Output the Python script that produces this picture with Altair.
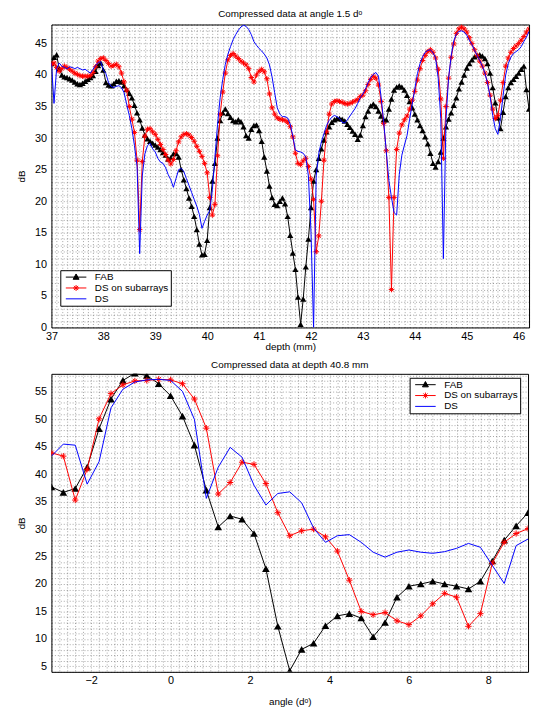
import altair as alt
import pandas as pd

FONT = "Liberation Sans"
SERIES = ["FAB", "DS on subarrays", "DS"]

# ---------------- top panel: compressed data at angle 1.5 deg ----------------
DEPTH_START = 37.0
DEPTH_STEP = 0.05
FAB_TOP = [
    41.8, 42.8, 43.2, 41.0, 40.0, 39.7, 39.6, 39.4, 39.2, 38.9,
    38.6, 38.5, 38.7, 39.0, 39.3, 39.6, 39.9, 40.6, 41.5, 41.9,
    40.8, 38.8, 38.4, 38.3, 38.6, 39.0, 39.1, 38.9, 38.3, 37.7,
    37.1, 36.4, 35.2, 34.0, 32.9, 31.6, 30.5, 29.9, 29.5, 29.2,
    28.9, 28.6, 28.2, 27.7, 27.3, 26.7, 26.9, 27.5, 27.6, 27.0,
    25.0, 23.4, 22.0, 20.5, 19.2, 17.6, 15.5, 13.2, 11.5, 11.6,
    13.8, 19.0, 23.2, 26.0, 30.0, 32.8, 34.0, 34.6, 33.9, 33.3,
    32.8, 32.6, 32.9, 32.6, 31.8, 30.4, 30.0, 31.4, 32.0, 32.1,
    31.2, 29.5, 27.0, 24.8, 22.4, 20.6, 19.5, 19.3, 20.0, 20.5,
    19.6, 17.6, 14.6, 11.8, 9.2, 4.8, 0.5, 4.5, 9.6, 14.0,
    19.0, 23.2, 25.0, 26.8, 28.3, 29.7, 31.0, 31.8, 32.5, 32.9,
    33.1, 33.1, 33.0, 32.7, 32.2, 31.7, 31.1, 30.6, 29.8, 30.5,
    32.0, 33.4, 34.3, 35.1, 35.4, 35.0, 34.3, 33.5, 32.9, 32.9,
    34.6, 36.2, 37.6, 38.1, 38.3, 38.1, 37.6, 36.8, 35.8, 34.8,
    33.8, 32.9, 32.0, 31.2, 30.2, 29.1, 27.6, 26.0, 25.4, 26.3,
    27.8, 30.0, 31.8, 33.0, 34.0, 35.2, 36.4, 37.8, 38.9, 40.0,
    41.1, 41.8, 42.4, 42.9, 43.1, 43.2, 43.0, 42.6, 41.8, 40.3,
    38.0, 35.6, 33.2, 31.5, 34.1, 36.6, 38.0, 38.8, 39.3, 39.8,
    40.3, 40.9, 41.4, 37.7, 34.6,
]
DSSUB_TOP = [
    41.7, 41.9, 41.2, 40.6, 41.0, 41.4, 41.2, 40.9, 40.6, 40.3,
    40.1, 39.9, 39.8, 39.8, 39.8, 39.9, 40.4, 41.3, 42.2, 42.6,
    42.7, 42.3, 41.8, 41.4, 41.5, 41.7, 41.3, 40.3, 38.9, 37.6,
    35.0, 33.0, 30.9, 26.5, 15.5, 26.3, 30.3, 31.4, 31.5, 31.0,
    30.6, 29.8, 29.0, 28.2, 27.4, 26.5, 25.9, 26.6, 28.0, 29.4,
    30.2, 30.6, 30.7, 30.5, 30.1, 29.5, 28.7, 27.9, 27.1, 26.0,
    24.5, 20.6, 17.8, 19.5, 27.2, 33.8, 37.3, 40.3, 42.4, 43.1,
    43.4, 43.0, 42.6, 42.2, 41.9, 41.6, 41.0, 39.6, 38.9, 40.0,
    40.6, 40.9, 40.5, 39.4, 37.0, 34.8, 33.8, 33.2, 33.0, 32.9,
    32.8, 32.5, 31.8, 30.2, 27.6, 26.0, 25.8, 26.4, 26.8, 25.5,
    23.5, 20.3, 12.0, 14.5, 20.0, 26.5, 31.0, 33.8, 35.4, 35.8,
    35.9, 35.8, 35.7, 35.5, 35.4, 35.5, 35.7, 35.9, 36.1, 36.6,
    36.8, 37.5, 38.5, 39.3, 39.8, 39.5, 38.4, 35.8, 32.3, 28.0,
    20.6, 6.0, 20.6, 28.2, 30.8, 32.1, 32.9, 33.5, 34.6, 36.0,
    37.4, 39.2, 41.0, 42.3, 43.1, 43.7, 44.0, 43.6, 42.7, 40.9,
    36.2, 26.8, 35.0, 39.5, 42.8, 44.9, 46.6, 47.3, 47.6, 47.3,
    46.8, 45.9, 45.0, 44.0, 43.1, 42.2, 41.4, 40.3, 38.8, 36.8,
    34.6, 33.1, 33.6, 36.0, 38.8, 41.4, 42.7, 43.6, 44.2, 44.6,
    45.0, 45.5, 46.1, 46.8, 47.3,
]
DS_TOP = [
    41.9, 35.5, 41.0, 41.9, 41.4, 41.2, 41.0, 41.3, 41.2, 41.0,
    41.2, 41.0, 40.8, 40.9, 40.6, 40.3, 40.9, 41.5, 42.0, 42.1,
    40.8, 40.2, 38.8, 38.2, 38.0, 38.2, 38.3, 38.0, 37.2, 35.3,
    33.6, 31.5, 28.8, 25.5, 11.7, 24.0, 27.5, 28.8, 29.2, 28.3,
    27.8, 26.8, 26.2, 26.0, 25.3, 24.2, 23.4, 22.2, 23.6, 25.0,
    25.2, 24.7, 23.6, 22.5, 21.4, 20.3, 19.2, 17.9, 15.7, 16.8,
    17.8, 18.5, 21.8, 27.0, 32.2, 36.4, 39.3, 41.7, 43.3, 44.5,
    45.6, 46.4, 47.1, 47.6, 47.9, 47.7, 47.2, 46.4, 45.3, 44.7,
    44.2, 43.8, 43.3, 42.7, 41.6, 39.7, 37.2, 34.8, 33.8, 33.4,
    33.4, 33.2, 32.2, 30.3, 28.1, 27.9, 27.8, 27.6, 27.0, 24.0,
    15.1, 0.0, 24.0, 27.6, 29.4, 30.7, 32.0, 32.8, 33.3, 33.6,
    33.4, 33.1, 32.5, 32.4, 32.9, 33.5, 34.1, 34.7, 35.5, 36.4,
    37.0, 37.8, 38.8, 39.6, 40.1, 40.4, 39.8, 36.5, 32.6, 27.9,
    23.3, 20.6, 18.2, 17.8, 24.2, 27.3, 28.9, 30.4, 33.0, 35.4,
    37.8, 40.2, 41.8, 42.9, 43.6, 43.9, 44.0, 43.5, 42.7, 39.5,
    33.1, 10.9, 33.0, 39.5, 43.0, 45.4, 46.5, 46.9, 47.0, 46.8,
    46.3, 45.5, 44.8, 43.9, 43.1, 42.3, 41.4, 40.3, 38.7, 36.6,
    33.6, 31.5, 30.6, 33.2, 36.7, 40.0, 41.8, 42.8, 43.4, 43.7,
    44.0, 44.5, 45.3, 46.0, 46.9,
]

# ---------------- bottom panel: compressed data at depth 40.8 mm ----------------
ANGLE_START = -3.0
ANGLE_STEP = 0.3
FAB_BOT = [
    37.7, 36.7, 37.4, 41.3, 48.3, 53.7, 57.1, 58.4, 58.0, 56.5,
    54.3, 50.6, 45.3, 37.1, 30.4, 32.4, 31.8, 29.2, 22.8, 12.3,
    4.2, 8.1, 9.2, 12.4, 14.2, 14.6, 13.8, 10.4, 13.0, 17.6,
    19.6, 20.0, 20.5, 20.0, 19.6, 19.1, 20.5, 24.2, 28.0, 30.6,
    33.0,
]
DSSUB_BOT = [
    43.9, 43.3, 35.3, 40.9, 50.1, 54.7, 56.3, 57.0, 57.1, 57.3,
    57.2, 56.5, 53.7, 48.4, 36.4, 38.5, 42.2, 41.8, 38.3, 33.0,
    28.8, 29.7, 30.0, 28.6, 26.0, 20.7, 15.0, 14.4, 14.8, 13.3,
    12.6, 14.2, 16.4, 18.3, 17.6, 12.3, 14.6, 23.8, 27.6, 29.2,
    30.1,
]
DS_BOT = [
    43.3, 45.5, 45.3, 38.2, 42.3, 52.1, 55.5, 56.8, 57.2, 57.3,
    57.1, 55.1, 50.0, 35.6, 41.3, 44.9, 43.1, 38.0, 34.4, 36.5,
    36.8, 34.8, 30.2, 27.6, 28.8, 29.0, 27.6, 25.8, 24.9, 25.8,
    26.2, 25.8, 25.6, 25.9, 26.5, 27.4, 26.7, 23.4, 20.1, 27.0,
    28.2,
]

# axis tick / grid positions
TOP_X_MAJOR = list(range(37, 47))
TOP_Y_MAJOR = list(range(0, 50, 5))
BOT_X_MAJOR = [-2, 0, 2, 4, 6, 8]
BOT_Y_MAJOR = list(range(5, 60, 5))
TOP_X_GRID = [round(37 + 0.1 * i, 1) for i in range(93)]
TOP_Y_GRID = list(range(0, 49))
BOT_X_GRID = [round(-3 + 0.2 * i, 1) for i in range(61)]
BOT_Y_GRID = list(range(4, 59))

STAR = "M-1,0L1,0M0,-1L0,1M-0.7,-0.7L0.7,0.7M-0.7,0.7L0.7,-0.7"
LEG_SHAPES = [
    "M-2.6,0L2.6,0M0,-0.8L0.75,0.55L-0.75,0.55Z",
    "M-2.6,0L2.6,0M-0.75,0L0.75,0M0,-0.75L0,0.75M-0.53,-0.53L0.53,0.53M-0.53,0.53L0.53,-0.53",
    "M-2.6,0L2.6,0",
]


def label_expr(major):
    return "indexof(" + str(major) + ", datum.value) >= 0 ? format(datum.value, 'd') : ''"


def panel(start, step, fab, dssub, ds, xdom, ydom, xgrid, ygrid, xmajor, ymajor,
          xtitle, title, tri_size, star_size, lx, ly, w, h, xtitle_pad):
    def frame(vals, name):
        return pd.DataFrame({
            "x": [round(start + step * i, 3) for i in range(len(vals))],
            "y": vals,
            "series": name,
        })

    d_fab, d_sub, d_ds = frame(fab, SERIES[0]), frame(dssub, SERIES[1]), frame(ds, SERIES[2])

    xenc = alt.X("x:Q", scale=alt.Scale(domain=xdom, nice=False, zero=False),
                 axis=alt.Axis(values=xgrid, labelExpr=label_expr(xmajor), grid=True,
                               ticks=False, domain=False, labelPadding=3, title=xtitle,
                               titlePadding=xtitle_pad, labelOverlap=False, labelFlush=False))
    yenc = alt.Y("y:Q", scale=alt.Scale(domain=ydom, nice=False, zero=False),
                 axis=alt.Axis(values=ygrid, labelExpr=label_expr(ymajor), grid=True,
                               ticks=False, domain=False, labelPadding=5, title="dB",
                               titlePadding=8, labelOverlap=False, labelFlush=False))

    fab_line = alt.Chart(d_fab).mark_line(color="black", strokeWidth=1, clip=True).encode(x=xenc, y=yenc)
    fab_pts = alt.Chart(d_fab).mark_point(shape="triangle-up", filled=True, color="black",
                                          size=tri_size, opacity=1, clip=True).encode(x=xenc, y=yenc)
    sub_line = alt.Chart(d_sub).mark_line(color="#ff0000", strokeWidth=1, clip=True).encode(x=xenc, y=yenc)
    sub_pts = alt.Chart(d_sub).mark_point(shape=STAR, filled=False, color="#ff0000", strokeWidth=1,
                                          size=star_size, opacity=1, clip=True).encode(x=xenc, y=yenc)
    ds_line = alt.Chart(d_ds).mark_line(color="#0000ff", strokeWidth=1, clip=True).encode(x=xenc, y=yenc)

    leg = alt.Legend(title=None, orient="none", legendX=lx, legendY=ly, fillColor="white",
                     strokeColor="black", padding=2, labelFont=FONT, labelFontSize=10,
                     labelColor="black", symbolSize=64, symbolStrokeWidth=1, rowPadding=1,
                     symbolOffset=9, labelOffset=14, cornerRadius=0)
    legend_layer = alt.Chart(d_fab).transform_filter("false").mark_point(opacity=1, strokeWidth=1).encode(
        x=xenc, y=yenc,
        shape=alt.Shape("series:N", scale=alt.Scale(domain=SERIES, range=LEG_SHAPES), legend=leg),
        fill=alt.Fill("series:N", scale=alt.Scale(domain=SERIES, range=["black", "transparent", "transparent"]), legend=leg),
        stroke=alt.Stroke("series:N", scale=alt.Scale(domain=SERIES, range=["black", "#ff0000", "#0000ff"]), legend=leg),
    )

    return alt.layer(fab_line, fab_pts, sub_line, sub_pts, ds_line, legend_layer).properties(
        width=w, height=h, title=alt.TitleParams(text=title, offset=0)
    )


top = panel(DEPTH_START, DEPTH_STEP, FAB_TOP, DSSUB_TOP, DS_TOP, [37, 46.2], [0, 48],
            TOP_X_GRID, TOP_Y_GRID, TOP_X_MAJOR, TOP_Y_MAJOR, "depth (mm)",
            "Compressed data at angle 1.5 d\u1d52", 40, 30, 9, 249, 484, 307, 0)
bottom = panel(ANGLE_START, ANGLE_STEP, FAB_BOT, DSSUB_BOT, DS_BOT, [-3, 9], [4, 58.3],
               BOT_X_GRID, BOT_Y_GRID, BOT_X_MAJOR, BOT_Y_MAJOR, "angle (d\u1d52)",
               "Compressed data at depth 40.8 mm", 60, 40, 363, 4, 483, 302, 11)

chart = alt.vconcat(top, bottom, spacing=7).resolve_scale(
    shape="independent", fill="independent", stroke="independent"
).resolve_legend(
    shape="independent", fill="independent", stroke="independent"
).properties(
    padding={"left": 8, "top": -5, "right": 2, "bottom": 2}
).configure_view(
    stroke="black", strokeWidth=1
).configure_axis(
    labelFont=FONT, titleFont=FONT, labelFontSize=11, titleFontSize=10,
    labelColor="black", titleColor="black", titleFontWeight="normal",
    gridColor="black", gridOpacity=0.6, gridDash=[1, 2], gridWidth=0.6,
).configure_title(
    font=FONT, fontSize=10, fontWeight="normal", color="black"
)

chart.save("out.html", embed_options={"renderer": "svg", "actions": False})
